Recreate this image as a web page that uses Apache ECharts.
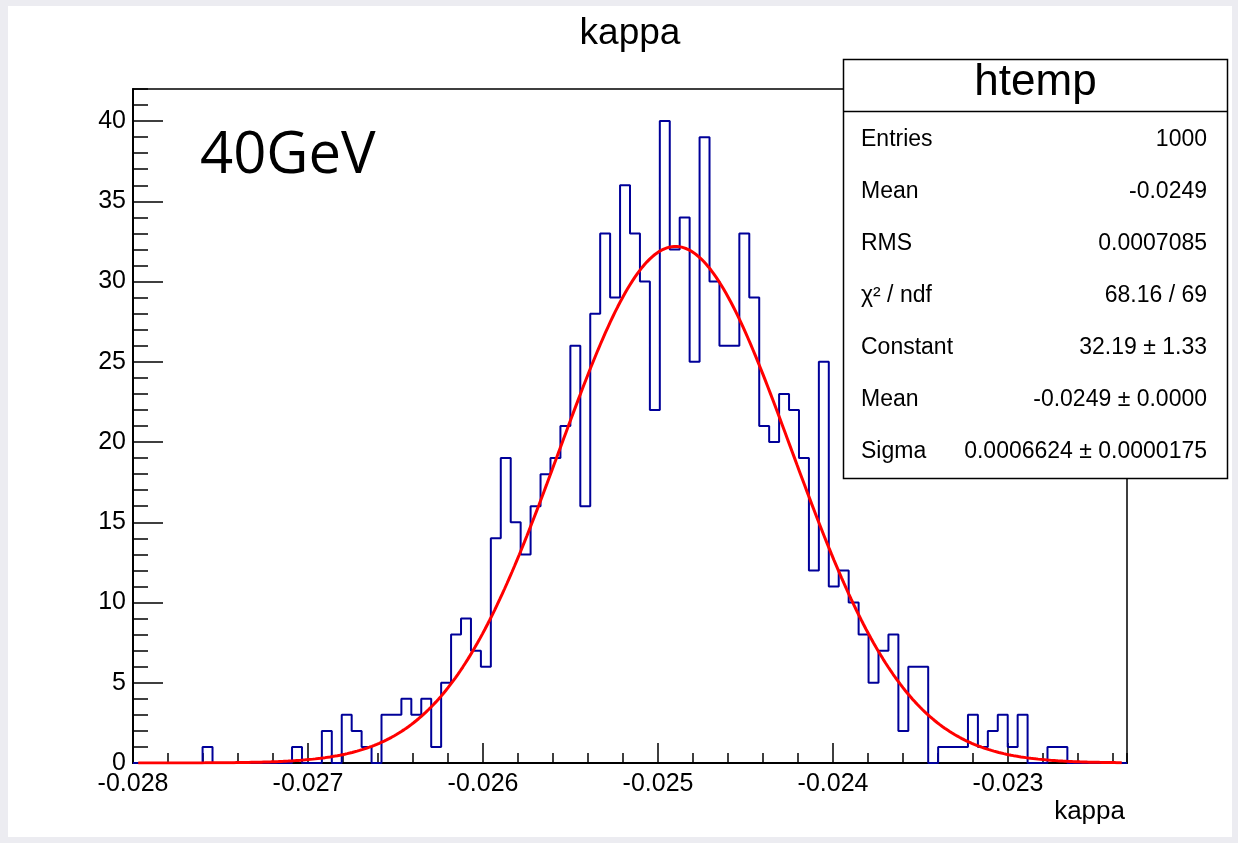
<!DOCTYPE html>
<html>
<head>
<meta charset="utf-8">
<script src="https://cdn.jsdelivr.net/npm/echarts@6/dist/echarts.min.js"></script>
<style>
html, body { margin: 0; padding: 0; background: #ececf1; width: 1238px; height: 843px; overflow: hidden; }
#bg { position: absolute; left: 8px; top: 6px; width: 1224px; height: 831px; background: #ffffff; }
#chart { position: absolute; left: 0; top: 0; width: 1238px; height: 843px; }
</style>
</head>
<body>
<div id="bg"></div>
<div id="chart"></div>
<script>
// ---------------- data ----------------
const TITLE = 'kappa';
const X_NAME = 'kappa';
const ENERGY_LABEL = '40GeV';

const X_MIN = -0.028;
const X_MAX = -0.02232;
const N_BINS = 100;
const Y_MIN = 0;
const Y_MAX = 42;

const X_MAJOR = 0.001;
const X_MINOR = 0.0002;
const Y_MAJOR = 5;
const Y_MINOR = 1;

// bin contents (100 bins; sum = 1000)
const COUNTS = [
  0, 0, 0, 0, 0, 0, 0, 1, 0, 0,
  0, 0, 0, 0, 0, 0, 1, 0, 0, 2,
  0, 3, 2, 1, 0, 3, 3, 4, 3, 4,
  1, 5, 8, 9, 7, 6, 14, 19, 15, 13,
  16, 18, 19, 21, 26, 16, 28, 33, 29, 36,
  33, 30, 22, 40, 32, 34, 25, 39, 30, 26,
  26, 33, 29, 21, 20, 23, 22, 19, 12, 25,
  11, 12, 10, 8, 5, 7, 8, 2, 6, 6,
  0, 1, 1, 1, 3, 1, 2, 3, 1, 3,
  0, 0, 1, 1, 0, 0, 0, 0, 0, 0
];

// gaussian fit parameters (from the stat box / picture)
const FIT_CONSTANT = 32.19;
const FIT_MEAN = -0.02490;
const FIT_SIGMA = 0.0006624;
const FIT_RANGE = [-0.02797, -0.02235];

const STAT_TITLE = 'htemp';
const STAT_NAMES = ['Entries', 'Mean', 'RMS', 'χ² / ndf', 'Constant', 'Mean', 'Sigma'];
const STAT_VALUES = ['1000', '-0.0249', '0.0007085', '68.16 / 69', '32.19 ± 1.33', '-0.0249 ± 0.0000', '0.0006624 ± 0.0000175'];

// ---------------- build ----------------
const FONT = '"Liberation Sans", Arial, Helvetica, sans-serif';
const binWidth = (X_MAX - X_MIN) / N_BINS;
const histData = COUNTS.map((c, i) => [X_MIN + i * binWidth, c]);
histData.push([X_MAX, COUNTS[N_BINS - 1]]);

const FIT_NPX = 400;
const fitData = [];
for (let k = 0; k <= FIT_NPX; k++) {
  const x = FIT_RANGE[0] + (FIT_RANGE[1] - FIT_RANGE[0]) * k / FIT_NPX;
  const t = (x - FIT_MEAN) / FIT_SIGMA;
  fitData.push([x, FIT_CONSTANT * Math.exp(-0.5 * t * t)]);
}

const GRID = { left: 133, right: 111, top: 89, bottom: 80 };
const BOX = { x: 843.5, y: 59.5, w: 384, h: 419, head: 52 };

const statElems = [
  { type: 'rect', z: 100, shape: { x: BOX.x, y: BOX.y, width: BOX.w, height: BOX.h },
    style: { fill: '#ffffff', stroke: '#000000', lineWidth: 1.5 } },
  { type: 'line', z: 101, shape: { x1: BOX.x, y1: BOX.y + BOX.head, x2: BOX.x + BOX.w, y2: BOX.y + BOX.head },
    style: { stroke: '#000000', lineWidth: 1.5 } },
  { type: 'text', z: 101, x: BOX.x + BOX.w / 2, y: 83,
    style: { text: STAT_TITLE, font: '44px ' + FONT, fill: '#000', align: 'center', verticalAlign: 'middle' } }
];
STAT_NAMES.forEach((name, k) => {
  const y = 139.6 + 51.93 * k;
  statElems.push({ type: 'text', z: 101, x: 861, y: y,
    style: { text: name, font: '23px ' + FONT, fill: '#000', align: 'left', verticalAlign: 'middle' } });
  statElems.push({ type: 'text', z: 101, x: 1207, y: y,
    style: { text: STAT_VALUES[k], font: '23px ' + FONT, fill: '#000', align: 'right', verticalAlign: 'middle' } });
});

const chart = echarts.init(document.getElementById('chart'), null, { renderer: 'canvas' });

const axisLabelStyle = { fontSize: 25, fontFamily: FONT, color: '#000' };

const option = {
  animation: false,
  backgroundColor: 'transparent',
  title: {
    text: TITLE, left: 630, top: 15, padding: 0, textAlign: 'center',
    textStyle: { fontSize: 37, fontWeight: 'normal', fontFamily: FONT, color: '#000' }
  },
  grid: {
    left: GRID.left, right: GRID.right, top: GRID.top, bottom: GRID.bottom,
    show: true, borderColor: '#000', borderWidth: 1.5, backgroundColor: 'transparent',
    containLabel: false, outerBoundsMode: 'none'
  },
  xAxis: [
    {
      type: 'value', position: 'bottom', min: X_MIN, max: X_MAX, interval: X_MAJOR,
      name: X_NAME, nameLocation: 'end', nameGap: -2, nameMoveOverlap: false,
      nameTextStyle: { fontSize: 26, fontFamily: FONT, color: '#000', align: 'right', verticalAlign: 'top', lineHeight: 26, padding: [36, 0, 0, 0] },
      axisLine: { show: true, onZero: false, lineStyle: { color: '#000', width: 2 } },
      axisTick: { show: true, inside: true, length: 20, lineStyle: { color: '#000', width: 1.5 } },
      axisLabel: { show: true, margin: 9, showMaxLabel: false, showMinLabel: true, hideOverlap: false,
        formatter: v => v.toFixed(3), ...axisLabelStyle },
      splitLine: { show: false }, minorTick: { show: false }
    },
    {
      type: 'value', position: 'bottom', min: X_MIN, max: X_MAX, interval: X_MINOR,
      axisLine: { show: false },
      axisTick: { show: true, inside: true, length: 10, lineStyle: { color: '#000', width: 1.5 } },
      axisLabel: { show: false }, splitLine: { show: false }
    }
  ],
  yAxis: [
    {
      type: 'value', position: 'left', min: Y_MIN, max: Y_MAX, interval: Y_MAJOR,
      axisLine: { show: true, onZero: false, lineStyle: { color: '#000', width: 2 } },
      axisTick: { show: true, inside: true, length: 30, lineStyle: { color: '#000', width: 1.5 } },
      axisLabel: { show: true, margin: 7, showMaxLabel: false, showMinLabel: true, hideOverlap: false, ...axisLabelStyle },
      splitLine: { show: false }
    },
    {
      type: 'value', position: 'left', min: Y_MIN, max: Y_MAX, interval: Y_MINOR,
      axisLine: { show: false },
      axisTick: { show: true, inside: true, length: 15, lineStyle: { color: '#000', width: 1.5 } },
      axisLabel: { show: false }, splitLine: { show: false }
    }
  ],
  series: [
    {
      name: 'htemp', type: 'line', xAxisIndex: 0, yAxisIndex: 0, step: 'end',
      data: histData, showSymbol: false, symbol: 'none', clip: true, z: 3,
      lineStyle: { color: '#000099', width: 2 }
    },
    {
      name: 'gaus', type: 'line', xAxisIndex: 0, yAxisIndex: 0, smooth: false,
      data: fitData, showSymbol: false, symbol: 'none', clip: true, z: 4,
      lineStyle: { color: '#ff0000', width: 3 }
    }
  ],
  graphic: [
    { type: 'text', z: 50, x: 200, y: 127,
      style: { text: ENERGY_LABEL, font: '58px "Open Sans", "Noto Sans", sans-serif', fill: '#000', align: 'left', verticalAlign: 'top' } }
  ].concat(statElems)
};

chart.setOption(option);
</script>
</body>
</html>
